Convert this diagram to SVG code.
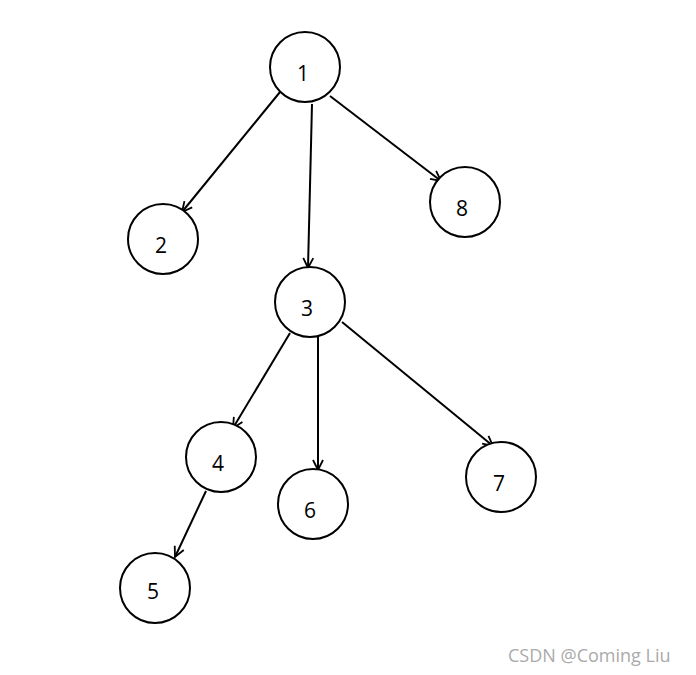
<svg xmlns="http://www.w3.org/2000/svg" width="696" height="675" viewBox="0 0 696 675">
<style>
.n circle{fill:#fff;stroke:#000;stroke-width:2}
.n text{font-family:"Open Sans","Liberation Sans",sans-serif;font-size:21px;fill:#000;text-anchor:middle;dominant-baseline:central}
#edges line{stroke:#000;stroke-width:2;marker-end:url(#arr)}
.wm{font-family:"Open Sans","Liberation Sans",sans-serif;font-size:18px;fill:#aaa}
</style>
<defs>
<marker id="arr" viewBox="0 0 12 12" refX="11" refY="6" markerWidth="12" markerHeight="12" markerUnits="userSpaceOnUse" orient="auto">
<path d="M1,1 L11,6 L1,11" fill="none" stroke="#000" stroke-width="1.8"/>
</marker>
</defs>
<rect width="696" height="675" fill="#fff"/>
<g id="edges">
<line x1="280" y1="92" x2="182" y2="212"/>
<line x1="312" y1="104" x2="308" y2="268"/>
<line x1="330" y1="96" x2="441" y2="181"/>
<line x1="290" y1="333" x2="233" y2="428"/>
<line x1="318" y1="336" x2="318" y2="470"/>
<line x1="342" y1="322" x2="493" y2="446"/>
<line x1="206" y1="491" x2="175" y2="557"/>
</g>
<g id="n1" class="n"><circle cx="305" cy="67" r="35"/><text x="303" y="73">1</text></g>
<g id="n2" class="n"><circle cx="163" cy="239" r="35"/><text x="161" y="245">2</text></g>
<g id="n8" class="n"><circle cx="465" cy="202" r="35"/><text x="462" y="208">8</text></g>
<g id="n3" class="n"><circle cx="310" cy="302" r="35"/><text x="307" y="308">3</text></g>
<g id="n4" class="n"><circle cx="221" cy="457" r="35"/><text x="218" y="463">4</text></g>
<g id="n6" class="n"><circle cx="313" cy="504" r="35"/><text x="310" y="510">6</text></g>
<g id="n7" class="n"><circle cx="501" cy="477" r="35"/><text x="499" y="483">7</text></g>
<g id="n5" class="n"><circle cx="155" cy="588" r="35"/><text x="153" y="591">5</text></g>
<text class="wm" x="508" y="662">CSDN @Coming Liu</text>
</svg>
